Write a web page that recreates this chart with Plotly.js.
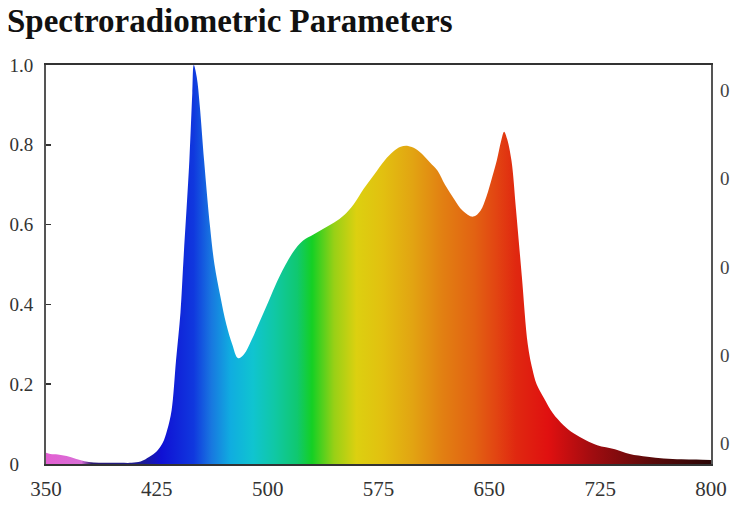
<!DOCTYPE html>
<html>
<head>
<meta charset="utf-8">
<script src="https://cdn.plot.ly/plotly-3.0.1.min.js"></script>
<style>html,body{margin:0;padding:0;background:#fff;}#chart{width:750px;height:510px;}</style>
</head>
<body>
<div id="chart"></div>
<script>
// Wavelength (nm) and relative spectral intensity
const wavelength = [350,353,358,364,370,376,382,390,400,408,414,420,425,429,432,435,438,441,443,447,449,450,452,454,457,461,464,468,472,476,480,484,489,495,502,508,517,524,531,538,545,552,558,565,572,579,585,590,595,600,605,610,615,620,626,632,639,644,648,652,655,658,660,662,665,668,672,676,679,682,687,693,700,707,715,723,735,745,757,768,780,790,800];
const intensity = [0.028,0.025,0.024,0.020,0.013,0.007,0.004,0.003,0.003,0.003,0.006,0.018,0.032,0.053,0.085,0.135,0.26,0.38,0.51,0.76,0.93,1.0,0.97,0.90,0.76,0.595,0.50,0.42,0.35,0.30,0.265,0.275,0.31,0.36,0.42,0.47,0.53,0.56,0.575,0.59,0.605,0.625,0.65,0.69,0.725,0.76,0.783,0.795,0.797,0.79,0.775,0.755,0.735,0.70,0.665,0.635,0.62,0.635,0.67,0.72,0.76,0.81,0.833,0.815,0.76,0.64,0.47,0.30,0.24,0.20,0.165,0.127,0.098,0.077,0.06,0.047,0.037,0.025,0.018,0.014,0.012,0.011,0.010];

// Spectrum colour stops (wavelength nm -> colour)
const colorStopNm = [350,374,381,415,428,450,462,475,490,505,520,530,545,560,578,598,618,640,655,668,690,720,760,800];
const colorStopHex = ['#e35fd2','#d86fd6','#2a1a70','#1c1c92','#1010d4','#1038de','#1878e0','#10ade0','#10c4d0','#10c8a4','#10c870','#14d024','#98d016','#dcd010','#e2c010','#e2a412','#e28012','#e26212','#e24412','#e02810','#e01010','#a00c10','#5a0a0a','#2a0606'];

const xTicks = [350,425,500,575,650,725,800];
const yTicks = [0,0.2,0.4,0.6,0.8,1.0];
const yTickText = ['0\u2008\u2007','0.2','0.4','0.6','0.8','1.0'];
const rightTicks = [0.053,0.273,0.494,0.717,0.937];
const rightTickText = ['0','0','0','0','0'];
const titleText = 'Spectroradiometric Parameters';

const nmMin = xTicks[0], nmMax = xTicks[xTicks.length-1];
const colorscale = colorStopNm.map((nm,i)=>[(nm-nmMin)/(nmMax-nmMin), colorStopHex[i]]);

const serif = 'Liberation Serif, Times New Roman, serif';

const trace = {
  x: wavelength,
  y: intensity,
  type: 'scatter',
  mode: 'lines',
  line: {width: 0, shape: 'spline', smoothing: 1, color: 'rgba(0,0,0,0)'},
  fill: 'tozeroy',
  fillgradient: {type: 'horizontal', start: nmMin, stop: nmMax, colorscale: colorscale},
  hoverinfo: 'x+y',
  showlegend: false
};
const ghost = {
  x: [nmMin], y: [0], yaxis: 'y2', type: 'scatter', mode: 'markers',
  marker: {opacity: 0}, showlegend: false, hoverinfo: 'skip'
};

const layout = {
  width: 750, height: 510,
  margin: {l: 46, r: 39, t: 65, b: 46},
  paper_bgcolor: '#fff', plot_bgcolor: '#fff',
  title: {
    text: '<b>' + titleText + '</b>',
    font: {family: serif, size: 33, color: '#111'},
    x: 7/750, xanchor: 'left', xref: 'container',
    y: 1 - 20/510, yanchor: 'middle', yref: 'container'
  },
  xaxis: {
    range: [nmMin, nmMax], tickvals: xTicks, ticktext: xTicks.map(String),
    showgrid: false, zeroline: false, showline: true, mirror: true,
    linecolor: '#333', linewidth: 2, ticks: '',
    tickfont: {family: serif, size: 21, color: '#333'},
    ticklabelstandoff: 5
  },
  yaxis: {
    range: [0, 1], tickvals: yTicks, ticktext: yTickText,
    showgrid: false, zeroline: false, showline: true, mirror: true,
    linecolor: '#555', linewidth: 2,
    ticks: 'inside', ticklen: 5, tickwidth: 1.5, tickcolor: '#333',
    tickfont: {family: serif, size: 19, color: '#333'},
    ticklabelstandoff: 7
  },
  yaxis2: {
    overlaying: 'y', side: 'right', range: [0, 1],
    tickvals: rightTicks, ticktext: rightTickText,
    showgrid: false, zeroline: false, showline: false, ticks: '',
    tickfont: {family: serif, size: 19, color: '#444'},
    ticklabelstandoff: 8
  }
};

Plotly.newPlot('chart', [trace, ghost], layout, {displayModeBar: false, staticPlot: true});
</script>
</body>
</html>
